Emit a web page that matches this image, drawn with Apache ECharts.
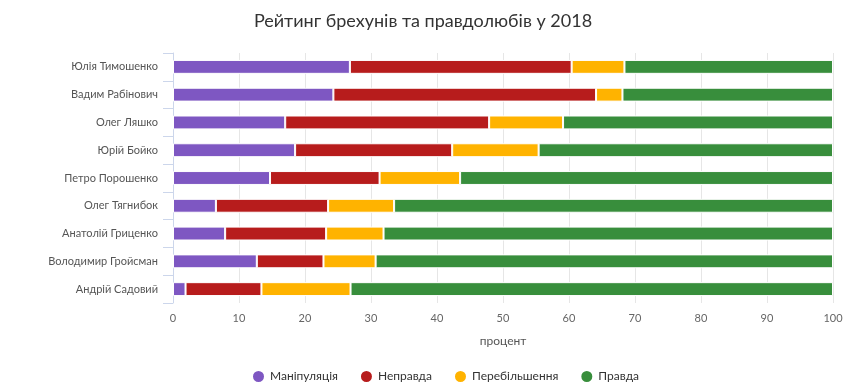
<!DOCTYPE html>
<html><head><meta charset="utf-8">
<script src="https://cdn.jsdelivr.net/npm/echarts@6/dist/echarts.min.js"></script>
<style>html,body{margin:0;padding:0;background:#fff}#c{width:846px;height:383px}</style>
</head><body><div id="c"></div>
<script>
const categories = ['Юлія Тимошенко','Вадим Рабінович','Олег Ляшко','Юрій Бойко','Петро Порошенко','Олег Тягнибок','Анатолій Гриценко','Володимир Гройсман','Андрій Садовий'];
const manipulation = [26.8, 24.3, 17.0, 18.5, 14.7, 6.5, 7.9, 12.7, 1.9];
const nepravda     = [33.6, 39.8, 30.9, 23.8, 16.6, 17.0, 15.3, 10.1, 11.5];
const perebilshennia = [8.0, 4.0, 11.2, 13.1, 12.2, 10.0, 8.7, 7.9, 13.5];
const pravda       = [31.6, 31.9, 40.9, 44.6, 56.5, 66.5, 68.1, 69.3, 73.1];
const xTicks = [0,10,20,30,40,50,60,70,80,90,100];

const font = 'Lato, "Open Sans", sans-serif';
const names = ['Маніпуляція','Неправда','Перебільшення','Правда'];
const colors = ['#7e57c2','#b71c1c','#ffb300','#388e3c'];
const datas = [manipulation, nepravda, perebilshennia, pravda];

const chart = echarts.init(document.getElementById('c'), null, {renderer:'canvas'});
chart.setOption({
  animation:false,
  title:{text:'Рейтинг брехунів та правдолюбів у 2018', left:'center', top:7,
    textStyle:{fontFamily:font, fontSize:18, fontWeight:'normal', color:'#333'}},
  legend:{top:364, left:246, icon:'circle', itemWidth:13, itemHeight:13, itemGap:21,
    textStyle:{fontFamily:font, fontSize:12, fontWeight:'normal', color:'#333'},
    data:names},
  grid:{left:173, right:13, top:53, bottom:80},
  xAxis:{type:'value', min:0, max:100, interval:10,
    name:'процент', nameLocation:'middle', nameGap:32,
    nameTextStyle:{fontFamily:font, fontSize:12, color:'#555'},
    axisLine:{show:false}, axisTick:{show:false},
    axisLabel:{fontFamily:font, fontSize:11, color:'#666', margin:10,
      formatter:v=>xTicks.includes(v)?String(v):''},
    splitLine:{lineStyle:{color:'#e6e6e6'}}},
  yAxis:{type:'category', data:categories, inverse:true,
    axisLine:{lineStyle:{color:'#ccd6eb'}},
    axisTick:{show:true, length:10, lineStyle:{color:'#ccd6eb'}},
    axisLabel:{fontFamily:font, fontSize:11, color:'#555', margin:15}},
  series: names.map((n,i)=>({name:n, type:'bar', stack:'s', data:datas[i],
    barWidth:'50%', itemStyle:{color:colors[i], borderColor:'#fff', borderWidth:1}}))
});
</script></body></html>
